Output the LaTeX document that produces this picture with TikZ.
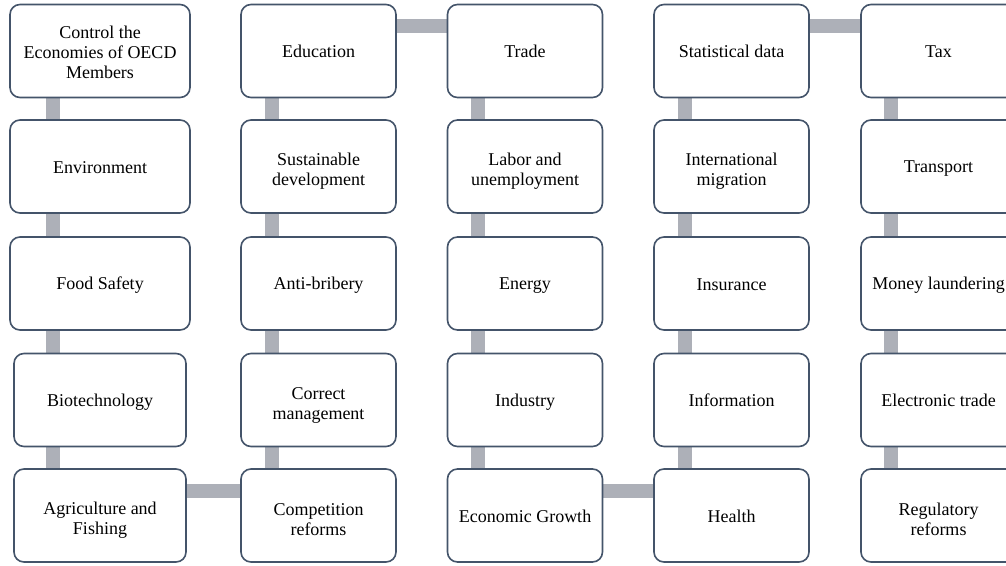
\documentclass[tikz,border=0pt]{standalone}
\usepackage{fontspec}
\setmainfont{Liberation Serif}
\usetikzlibrary{backgrounds}
\definecolor{boxline}{HTML}{44546A}
\definecolor{linkgray}{HTML}{ADB0B8}
\tikzset{
  topic/.style={draw=boxline, line width=1.6pt, rounded corners=10pt, fill=white,
    minimum width=155pt, minimum height=93pt, inner sep=2pt, align=center,
    font=\fontsize{18}{20}\selectfont,
    execute at begin node={\rule{0pt}{16pt}}, execute at end node={\rule[-3pt]{0pt}{3pt}}},
  toppad/.style={execute at begin node={\rule{0pt}{#1}}},
  twoline/.style={topic, toppad=42pt},
  wide/.style={topic, minimum width=180pt},
  narrow/.style={twoline, minimum width=172pt},
  link/.style={draw=linkgray, line width=14pt}
}
\begin{document}
\begin{tikzpicture}[x=1pt, y=-1pt]
\useasboundingbox (0,0) rectangle (1006,565);
\node[wide, toppad=57pt] (ctrl) at (100, 51){Control the\\Economies of OECD\\Members};
\node[wide] (env) at (100, 166.5){Environment};
\node[wide] (food) at (100, 283.5){Food Safety};
\node[topic, minimum width=172pt] (bio) at (100, 400){Biotechnology};
\node[narrow] (agri) at (100, 515.5){Agriculture and\\Fishing};
\node[topic] (edu) at (318.5, 51){Education};
\node[twoline] (sust) at (318.5, 166.5){Sustainable\\development};
\node[topic] (anti) at (318.5, 283.5){Anti-bribery};
\node[twoline] (corr) at (318.5, 400){Correct\\management};
\node[twoline] (comp) at (318.5, 515.5){Competition\\reforms};
\node[topic] (trade) at (525, 51){Trade};
\node[twoline] (labor) at (525, 166.5){Labor and\\unemployment};
\node[topic] (energy) at (525, 283.5){Energy};
\node[topic] (industry) at (525, 400){Industry};
\node[topic] (growth) at (525, 515.5){Economic Growth};
\node[topic] (stat) at (731.5, 51){Statistical data};
\node[twoline] (migr) at (731.5, 166.5){International\\migration};
\node[topic] (insur) at (731.5, 283.5){Insurance};
\node[topic] (info) at (731.5, 400){Information};
\node[topic] (health) at (731.5, 515.5){Health};
\node[topic] (tax) at (938.5, 51){Tax};
\node[topic] (transp) at (938.5, 166.5){Transport};
\node[topic] (money) at (938.5, 283.5){Money laundering};
\node[topic] (etrade) at (938.5, 400){Electronic trade};
\node[twoline] (regref) at (938.5, 515.5){Regulatory\\reforms};
\begin{scope}[on background layer]
\draw[link] ([xshift=44pt]ctrl.south west) -- ([xshift=44pt]env.north west);
\draw[link] ([xshift=44pt]env.south west) -- ([xshift=44pt]food.north west);
\draw[link] ([xshift=44pt]food.south west) -- ([xshift=40pt]bio.north west);
\draw[link] ([xshift=40pt]bio.south west) -- ([xshift=40pt]agri.north west);
\draw[link] ([yshift=-23pt]agri.north east) -- ([yshift=-23pt]comp.north west);
\draw[link] ([xshift=32pt]comp.north west) -- ([xshift=32pt]corr.south west);
\draw[link] ([xshift=32pt]corr.north west) -- ([xshift=32pt]anti.south west);
\draw[link] ([xshift=32pt]anti.north west) -- ([xshift=32pt]sust.south west);
\draw[link] ([xshift=32pt]sust.north west) -- ([xshift=32pt]edu.south west);
\draw[link] ([yshift=-22pt]edu.north east) -- ([yshift=-22pt]trade.north west);
\draw[link] ([xshift=31pt]trade.south west) -- ([xshift=31pt]labor.north west);
\draw[link] ([xshift=31pt]labor.south west) -- ([xshift=31pt]energy.north west);
\draw[link] ([xshift=31pt]energy.south west) -- ([xshift=31pt]industry.north west);
\draw[link] ([xshift=31pt]industry.south west) -- ([xshift=31pt]growth.north west);
\draw[link] ([yshift=-23pt]growth.north east) -- ([yshift=-23pt]health.north west);
\draw[link] ([xshift=32pt]health.north west) -- ([xshift=32pt]info.south west);
\draw[link] ([xshift=32pt]info.north west) -- ([xshift=32pt]insur.south west);
\draw[link] ([xshift=32pt]insur.north west) -- ([xshift=32pt]migr.south west);
\draw[link] ([xshift=32pt]migr.north west) -- ([xshift=32pt]stat.south west);
\draw[link] ([yshift=-22pt]stat.north east) -- ([yshift=-22pt]tax.north west);
\draw[link] ([xshift=31pt]tax.south west) -- ([xshift=31pt]transp.north west);
\draw[link] ([xshift=31pt]transp.south west) -- ([xshift=31pt]money.north west);
\draw[link] ([xshift=31pt]money.south west) -- ([xshift=31pt]etrade.north west);
\draw[link] ([xshift=31pt]etrade.south west) -- ([xshift=31pt]regref.north west);
\end{scope}
\end{tikzpicture}
\end{document}
